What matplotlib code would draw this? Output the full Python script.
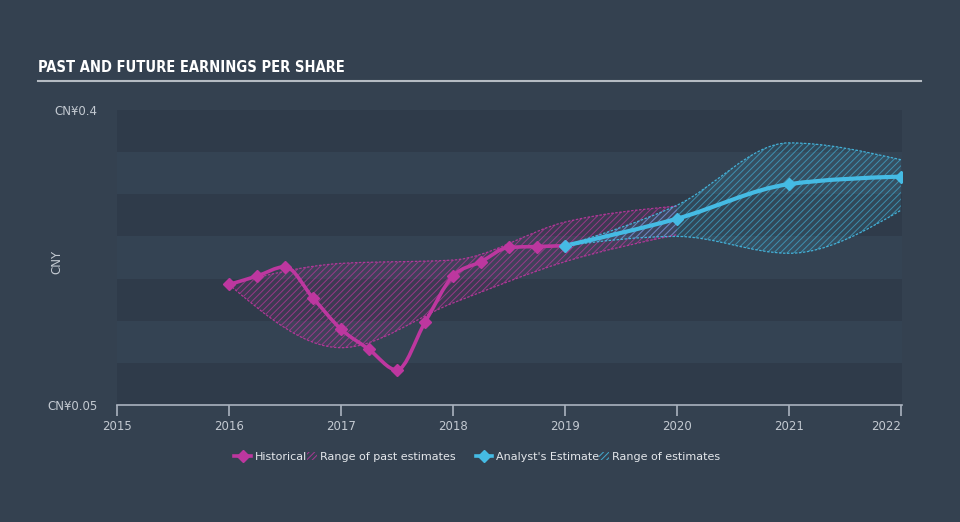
import numpy as np
import matplotlib
matplotlib.use("Agg")
import matplotlib.pyplot as plt
from matplotlib.path import Path
import matplotlib.patches as patches
from matplotlib.lines import Line2D
from matplotlib.colors import to_rgba
from matplotlib.legend_handler import HandlerPatch
from matplotlib import font_manager

# --- data ---
hist_x = [2016.0, 2016.25, 2016.5, 2016.75, 2017.0, 2017.25, 2017.5, 2017.75,
          2018.0, 2018.25, 2018.5, 2018.75, 2019.0]
hist_y = [0.193, 0.203, 0.214, 0.177, 0.140, 0.116, 0.0915, 0.148,
          0.203, 0.220, 0.237, 0.238, 0.239]

past_x = [2016.0, 2017.0, 2018.0, 2019.0, 2020.0]
past_hi = [0.193, 0.218, 0.222, 0.267, 0.286]
past_lo = [0.193, 0.118, 0.171, 0.220, 0.252]

est_x = [2019.0, 2020.0, 2021.0, 2022.0]
est_y = [0.239, 0.271, 0.312, 0.321]
est_hi = [0.239, 0.287, 0.361, 0.341]
est_lo = [0.239, 0.250, 0.230, 0.281]

years = [2015, 2016, 2017, 2018, 2019, 2020, 2021, 2022]
ytick_vals = [0.05, 0.4]
ytick_labels = ["CN¥0.05", "CN¥0.4"]
band_step = 0.05

BG = "#344150"
BAND_DARK = "#2f3b4a"
BAND_LIGHT = "#344353"
PINK = "#bd379f"
BLUE = "#45bbe4"
GREY = "#c3c9d1"


def tangents(x, y):
    # monotone cubic tangents (same idea as d3 curveMonotoneX)
    x = np.asarray(x, float)
    y = np.asarray(y, float)
    n = len(x)
    h = np.diff(x)
    s = np.diff(y) / h
    t = np.zeros(n)
    for i in range(1, n - 1):
        p = (s[i - 1] * h[i] + s[i] * h[i - 1]) / (h[i - 1] + h[i])
        t[i] = (np.sign(s[i - 1]) + np.sign(s[i])) * min(abs(s[i - 1]), abs(s[i]), 0.5 * abs(p))
    if n > 2:
        t[0] = (3 * s[0] - t[1]) / 2
        t[-1] = (3 * s[-1] - t[-2]) / 2
    else:
        t[:] = s[0]
    return t


def bezier_verts(x, y):
    t = tangents(x, y)
    verts = [(x[0], y[0])]
    for i in range(len(x) - 1):
        dx = (x[i + 1] - x[i]) / 3
        verts += [(x[i] + dx, y[i] + dx * t[i]),
                  (x[i + 1] - dx, y[i + 1] - dx * t[i + 1]),
                  (x[i + 1], y[i + 1])]
    return verts


def curve_path(x, y):
    v = bezier_verts(x, y)
    codes = [Path.MOVETO] + [Path.CURVE4] * (len(v) - 1)
    return Path(v, codes)


def band_path(x, hi, lo):
    up = bezier_verts(x, hi)
    dn = bezier_verts(x[::-1], lo[::-1])
    v = up + [dn[0]] + dn[1:] + [up[0]]
    codes = ([Path.MOVETO] + [Path.CURVE4] * (len(up) - 1) + [Path.LINETO]
             + [Path.CURVE4] * (len(dn) - 1) + [Path.CLOSEPOLY])
    return Path(v, codes)


def small_swatch(legend, orig_handle, xdescent, ydescent, width, height, fontsize):
    w = height * 1.1
    return patches.Rectangle((width - w - xdescent, -ydescent), w, height)


plt.rcParams['hatch.linewidth'] = 0.7

fig = plt.figure(figsize=(9.6, 5.22), dpi=100, facecolor=BG)
ax = fig.add_axes([117 / 960, 1 - 405 / 522, (902 - 117) / 960, (405 - 110) / 522])
ax.set_facecolor(BAND_DARK)

# alternating horizontal bands
lo_b = ytick_vals[0]
k = 0
while lo_b < ytick_vals[-1] - 1e-9:
    ax.axhspan(lo_b, lo_b + band_step, color=BAND_DARK if k % 2 == 0 else BAND_LIGHT, lw=0, zorder=0)
    lo_b += band_step
    k += 1

# ranges
for xs, hi, lo, col, ha in [(past_x, past_hi, past_lo, PINK, 0.7), (est_x, est_hi, est_lo, BLUE, 0.6)]:
    p = band_path(xs, hi, lo)
    ax.add_patch(patches.PathPatch(p, facecolor=to_rgba(col, 0.10), edgecolor=to_rgba(col, ha),
                                   lw=0, hatch="/////", zorder=2))
    for edge in (hi, lo):
        ax.add_patch(patches.PathPatch(curve_path(xs, edge), fill=False, edgecolor=col,
                                       lw=0.9, ls=(0, (2, 1.2)), alpha=0.9, zorder=3))

# lines
ax.add_patch(patches.PathPatch(curve_path(hist_x, hist_y), fill=False, edgecolor=PINK,
                               lw=2.6, capstyle='round', joinstyle='round', zorder=4))
ax.plot(hist_x, hist_y, ls="none", marker="D", ms=6, color=PINK, zorder=5)
ax.add_patch(patches.PathPatch(curve_path(est_x, est_y), fill=False, edgecolor=BLUE,
                               lw=3.0, capstyle='round', joinstyle='round', zorder=4))
ax.plot(est_x, est_y, ls="none", marker="D", ms=6, color=BLUE, zorder=5)

ax.set_xlim(2015, 2022.01)
ax.set_ylim(0.05, 0.4)

for sp in ["top", "right", "left"]:
    ax.spines[sp].set_visible(False)
ax.spines["bottom"].set_color("#aab3bf")
ax.spines["bottom"].set_linewidth(1.2)

ax.set_xticks(years)
ax.set_xticklabels([str(y) for y in years])
ax.tick_params(axis="x", colors="#aab3bf", length=8, width=1.2, direction="out", pad=3,
               labelsize=8.5, labelcolor=GREY)
ax.get_xticklabels()[-1].set_horizontalalignment("right")
ax.set_yticks(ytick_vals)
ax.set_yticklabels(ytick_labels)
ax.tick_params(axis="y", length=0, pad=14, labelsize=8.5, labelcolor=GREY)

fig.text(0.0594, 0.498, "CNY", rotation=90, color=GREY, fontsize=8.5, ha="center", va="center")

# title and rule
title_fp = font_manager.FontProperties(family="DejaVu Sans", weight="bold", stretch="condensed", size=10.5)
fig.text(38 / 960, 1 - 67 / 522, "PAST AND FUTURE EARNINGS PER SHARE",
         fontproperties=title_fp, color="white", ha="left", va="center")
fig.add_artist(Line2D([38 / 960, 921 / 960], [1 - 81 / 522] * 2, color="#b5bbc3", lw=1.5))

# legend, two groups
groups = [
    (PINK, ["Historical", "Range of past estimates"], 345),
    (BLUE, ["Analyst's Estimate", "Range of estimates"], 598),
]
for col, labels, cx in groups:
    handles = [
        Line2D([], [], color=col, lw=2.6, marker="D", ms=6.5),
        patches.Patch(facecolor="none", edgecolor=to_rgba(col, 0.85), hatch="//////", lw=0),
    ]
    leg = fig.legend(handles, labels, loc="center", bbox_to_anchor=(cx / 960, 1 - 457 / 522),
                     ncol=2, frameon=False, fontsize=8, labelcolor="#e4e7eb",
                     handlelength=1.5, handletextpad=0.3, columnspacing=-0.6, handleheight=0.8,
                     borderpad=0, handler_map={patches.Patch: HandlerPatch(patch_func=small_swatch)})

fig.savefig("out.png", dpi=100, facecolor=BG)
